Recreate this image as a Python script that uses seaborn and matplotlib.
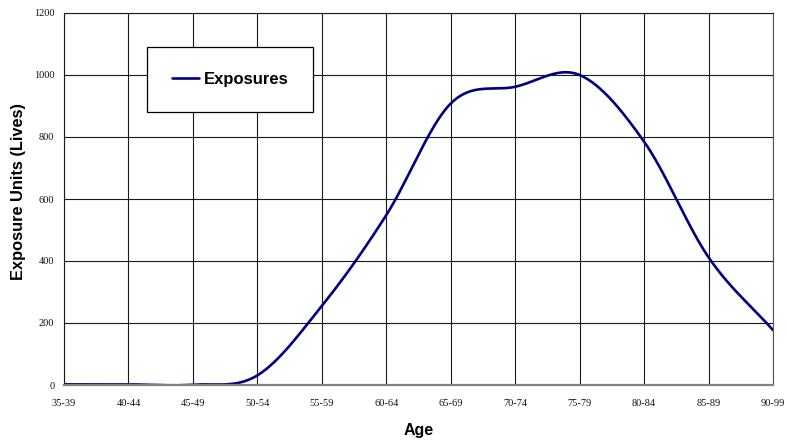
import numpy as np
import pandas as pd
import seaborn as sns
import matplotlib
matplotlib.use("Agg")
import matplotlib.pyplot as plt

# Exposure counts by age band
age_bands = ["35-39", "40-44", "45-49", "50-54", "55-59", "60-64",
             "65-69", "70-74", "75-79", "80-84", "85-89", "90-99"]
exposures = [2, 2, 1, 31, 255, 548, 908, 962, 1000, 785, 412, 177]
y_ticks = [0, 200, 400, 600, 800, 1000, 1200]


def smooth_curve(values, steps=40):
    """Catmull-Rom spline through the points (Excel-style smoothed line)."""
    v = np.asarray(values, dtype=float)
    n = len(v)
    xs, ys = [], []
    for i in range(n - 1):
        p0 = v[i - 1] if i > 0 else v[i]
        p1, p2 = v[i], v[i + 1]
        p3 = v[i + 2] if i + 2 < n else v[i + 1]
        m1 = (p2 - p0) / (2.0 if i > 0 else 1.0)
        m2 = (p3 - p1) / (2.0 if i + 2 < n else 1.0)
        t = np.linspace(0, 1, steps, endpoint=(i == n - 2))
        h00 = 2 * t**3 - 3 * t**2 + 1
        h10 = t**3 - 2 * t**2 + t
        h01 = -2 * t**3 + 3 * t**2
        h11 = t**3 - t**2
        xs.append(i + t)
        ys.append(h00 * p1 + h10 * m1 + h01 * p2 + h11 * m2)
    return np.concatenate(xs), np.concatenate(ys)


sx, sy = smooth_curve(exposures)
curve = pd.DataFrame({"pos": sx, "Exposures": sy, "series": "Exposures"})

sns.set_style("white")
plt.rcParams["font.family"] = ["Liberation Sans", "DejaVu Sans"]
plt.rcParams["text.color"] = "black"
plt.rcParams["axes.labelcolor"] = "black"

fig = plt.figure(figsize=(7.87, 4.40), dpi=100)
ax = fig.add_axes([64 / 787, 1 - 385 / 440, (773 - 64) / 787, (385 - 13) / 440])

sns.lineplot(data=curve, x="pos", y="Exposures", hue="series",
             palette=["#000080"], linewidth=1.9, ax=ax, sort=False,
             estimator=None)

ax.set_xlim(0, len(age_bands) - 1)
ax.set_ylim(0, 1200)
ax.set_xticks(range(len(age_bands)))
ax.set_xticklabels(age_bands)
ax.set_yticks(y_ticks)
ax.set_yticklabels([str(t) for t in y_ticks])

ax.grid(True, color="#1a1a1a", linewidth=0.8)
ax.set_axisbelow(True)
for side in ["left", "top", "right"]:
    ax.spines[side].set_color("#1a1a1a")
    ax.spines[side].set_linewidth(0.8)
ax.spines["right"].set_color("#555555")
ax.spines["bottom"].set_color("#808080")
ax.spines["bottom"].set_linewidth(1.6)

ax.tick_params(axis="both", direction="out", length=4, width=0.8,
               color="#333333", labelsize=7.5, labelcolor="#111111", pad=3)
for lbl in ax.get_xticklabels() + ax.get_yticklabels():
    lbl.set_fontfamily("Liberation Serif")
ax.tick_params(axis="x", pad=6)

ax.set_xlabel("Age", fontsize=11.5, fontweight="bold", labelpad=11)
ax.set_ylabel("Exposure Units (Lives)", fontsize=11.8, fontweight="bold")
ax.yaxis.set_label_coords(-0.054, 0.52)

leg = ax.legend(loc="upper left", bbox_to_anchor=(147 / 787, 1 - 47 / 440),
                bbox_transform=fig.transFigure, frameon=True,
                prop={"weight": "bold", "size": 12}, handlelength=1.62,
                handletextpad=0.27, borderpad=1.5, fancybox=False,
                borderaxespad=0)
leg.get_frame().set_edgecolor("#000000")
leg.get_frame().set_linewidth(0.9)
leg.get_frame().set_facecolor("white")
leg.get_frame().set_alpha(1)
for h in leg.get_lines():
    h.set_linewidth(1.9)

fig.savefig("out.png", dpi=100)
